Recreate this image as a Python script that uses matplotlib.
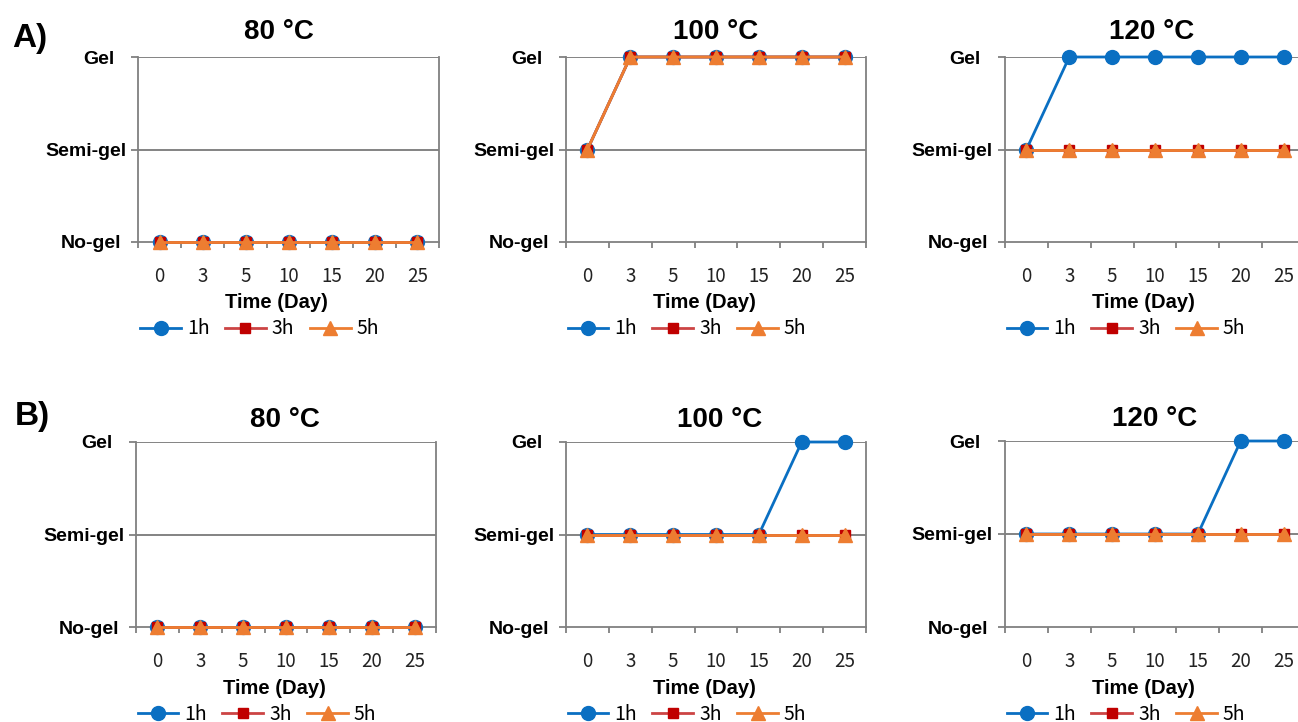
import matplotlib
matplotlib.use("Agg")
import matplotlib.pyplot as plt
from matplotlib.ticker import FixedLocator

# ---------------- data ----------------
days = ["0", "3", "5", "10", "15", "20", "25"]
levels = ["No-gel", "Semi-gel", "Gel"]
series_names = ["1h", "3h", "5h"]
temps = ["80 °C", "100 °C", "120 °C"]

# Panel A (0 = No-gel, 1 = Semi-gel, 2 = Gel)
A_80_1h = [0, 0, 0, 0, 0, 0, 0]
A_80_3h = [0, 0, 0, 0, 0, 0, 0]
A_80_5h = [0, 0, 0, 0, 0, 0, 0]
A_100_1h = [1, 2, 2, 2, 2, 2, 2]
A_100_3h = [1, 2, 2, 2, 2, 2, 2]
A_100_5h = [1, 2, 2, 2, 2, 2, 2]
A_120_1h = [1, 2, 2, 2, 2, 2, 2]
A_120_3h = [1, 1, 1, 1, 1, 1, 1]
A_120_5h = [1, 1, 1, 1, 1, 1, 1]

# Panel B
B_80_1h = [0, 0, 0, 0, 0, 0, 0]
B_80_3h = [0, 0, 0, 0, 0, 0, 0]
B_80_5h = [0, 0, 0, 0, 0, 0, 0]
B_100_1h = [1, 1, 1, 1, 1, 2, 2]
B_100_3h = [1, 1, 1, 1, 1, 1, 1]
B_100_5h = [1, 1, 1, 1, 1, 1, 1]
B_120_1h = [1, 1, 1, 1, 1, 2, 2]
B_120_3h = [1, 1, 1, 1, 1, 1, 1]
B_120_5h = [1, 1, 1, 1, 1, 1, 1]

panels = [
    [(A_80_1h, A_80_3h, A_80_5h), (A_100_1h, A_100_3h, A_100_5h), (A_120_1h, A_120_3h, A_120_5h)],
    [(B_80_1h, B_80_3h, B_80_5h), (B_100_1h, B_100_3h, B_100_5h), (B_120_1h, B_120_3h, B_120_5h)],
]

# ---------------- style ----------------
W, H = 1298, 722
DPI = 100
PT = 72.0 / DPI  # px -> points

line_colors = ["#0A6FC2", "#CC4444", "#ED7D31"]
marker_colors = ["#0A6FC2", "#C00000", "#ED7D31"]
markers = ["o", "s", "^"]
msizes = [10, 7, 9.5]
axis_gray = "#808080"
BOLD = "Liberation Sans"
REG = ["Noto Sans CJK KR", "DejaVu Sans"]

fig = plt.figure(figsize=(W / DPI, H / DPI), dpi=DPI)

# axes boxes in pixels: (left, right, top, bottom)
boxes = [
    [(138, 439, 57, 242), (566, 866, 57, 242), (1005, 1305, 57, 242)],
    [(136, 436, 442, 627), (566, 866, 442, 627), (1005, 1305, 441, 627)],
]
title_dx = [[-10, 0, -3], [-1, 4, 0]]
title_pad = [[12, 12, 12], [9, 9, 9]]

ylab_off = {0: 17, 1: 12, 2: 24}  # px gap between label right edge and axis

for r in range(2):
    for c in range(3):
        l, rr, t, b = boxes[r][c]
        ax = fig.add_axes([l / W, 1 - b / H, (rr - l) / W, (b - t) / H])
        x = list(range(len(days)))
        for k in range(3):
            ax.plot(x, panels[r][c][k], color=line_colors[k], marker=markers[k],
                    markerfacecolor=marker_colors[k], markeredgecolor=marker_colors[k],
                    markersize=msizes[k], linewidth=2.0, clip_on=False,
                    label=series_names[k], zorder=3 + k)
        ax.set_xlim(-0.5, len(days) - 0.5)
        ax.set_ylim(0, 2)
        # grid lines
        for yv in [1, 2]:
            ax.axhline(yv, color="#6e6e6e", linewidth=1.2, zorder=1)
        for s in ax.spines.values():
            s.set_color(axis_gray)
            s.set_linewidth(1.3)
        ax.spines["top"].set_visible(False)
        # x ticks: labels at categories, marks at boundaries
        ax.set_xticks(x)
        ax.set_xticklabels(days, fontsize=13.5, family=REG, color="#222222")
        ax.tick_params(axis="x", which="major", length=0, pad=17)
        ax.xaxis.set_minor_locator(FixedLocator([i - 0.5 for i in range(len(days) + 1)]))
        ax.tick_params(axis="x", which="minor", length=6 * PT,
                       direction="out", color=axis_gray, width=1.3)
        # y ticks
        ax.set_yticks([0, 1, 2])
        ax.set_yticklabels([])
        ax.tick_params(axis="y", length=7 * PT, direction="out", color=axis_gray, width=1.3)
        for yv, name in enumerate(levels):
            ax.annotate(name, xy=(0, yv), xycoords=("axes fraction", "data"),
                        xytext=(-ylab_off[yv] * PT, -2 * PT), textcoords="offset points",
                        ha="right", va="center", fontsize=14, fontweight="bold",
                        family=BOLD, annotation_clip=False)
        # title
        ax.annotate(temps[c], xy=(0.5, 1), xycoords="axes fraction",
                    xytext=(title_dx[r][c] * PT, title_pad[r][c] * PT), textcoords="offset points",
                    ha="center", va="bottom", fontsize=20, fontweight="bold", family=BOLD)
        # x label
        ax.annotate("Time (Day)", xy=(0.5, 0), xycoords="axes fraction",
                    xytext=(-12 * PT, -61 * PT), textcoords="offset points",
                    ha="center", va="center", fontsize=14.5, fontweight="bold", family=BOLD)
        # legend
        cx = (l + rr) / 2 - 29
        cy = b + 87
        ax.legend(loc="center", bbox_to_anchor=(cx / W, 1 - cy / H),
                  bbox_transform=fig.transFigure, ncol=3, frameon=False,
                  prop={"family": REG, "size": 14}, handlelength=2.1,
                  handletextpad=0.3, columnspacing=0.8, borderpad=0,
                  borderaxespad=0)

fig.text(12 / W, 1 - 39 / H, "A)", fontsize=24, fontweight="bold", family=BOLD,
         ha="left", va="center")
fig.text(15 / W, 1 - 417 / H, "B)", fontsize=24, fontweight="bold", family=BOLD,
         ha="left", va="center")

fig.savefig("out.png", dpi=DPI)
